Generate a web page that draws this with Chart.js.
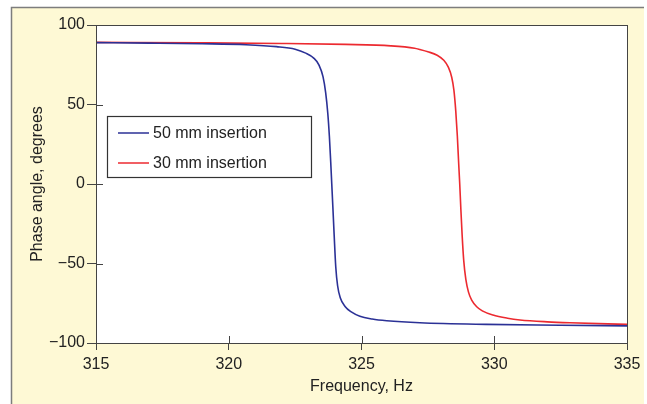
<!DOCTYPE html>
<html>
<head>
<meta charset="utf-8">
<script src="https://cdn.jsdelivr.net/npm/chart.js@4"></script>
<style>
  html, body { margin: 0; padding: 0; background: #fff; overflow: hidden; }
  canvas { display: block; }
</style>
</head>
<body>
<canvas id="myChart" width="647" height="404"></canvas>
<script>
// frequency (Hz) and phase (degrees)
var freq50 = [315, 317, 319, 320.65, 321.8, 322.5, 322.9, 323.2, 323.4, 323.55, 323.65, 323.73, 323.79, 323.84, 323.88, 323.92, 323.97, 324.03, 324.1, 324.2, 324.38, 324.63, 324.94, 325.4, 325.95, 327.2, 329.7, 332.5, 335];
var phase50 = [88.9, 88.6, 88.2, 87.6, 86.4, 84.8, 82.3, 79.2, 74.8, 67.5, 57.5, 44.5, 30, 14, 0, -14, -32, -52, -64, -71.5, -77, -80.6, -83.2, -84.9, -86.0, -87.3, -88.3, -88.8, -89.2];

var freq30 = [315, 318.9, 322, 324.4, 326.1, 327.0, 327.2, 327.5, 327.85, 328.1, 328.27, 328.4, 328.48, 328.55, 328.61, 328.66, 328.7, 328.74, 328.79, 328.85, 328.93, 329.03, 329.15, 329.34, 329.55, 329.95, 330.5, 330.97, 332, 332.85, 335];
var phase30 = [89.1, 88.8, 88.4, 87.8, 86.9, 85.4, 84.6, 83.2, 81.0, 77.8, 73.5, 67, 59, 46, 30, 13, 0, -15, -32, -48, -60, -68, -73, -77.2, -79.8, -82.4, -84.4, -85.5, -86.7, -87.3, -88.3];

var seriesLabels = ["50 mm insertion", "30 mm insertion"];
var xTicks = [315, 320, 325, 330, 335];
var yTicks = [-100, -50, 0, 50, 100];

function pts(xs, ys) {
  return xs.map(function (x, i) { return { x: x, y: ys[i] }; });
}

var frame = {
  id: 'frame',
  beforeDraw: function (chart) {
    var c = chart.ctx, a = chart.chartArea;
    c.save();
    c.fillStyle = '#ffffff';
    c.fillRect(0, 0, chart.width, chart.height);
    c.fillStyle = '#fef9d5';
    c.fillRect(11, 7, 633, chart.height - 7);
    c.strokeStyle = '#7d7d7d';
    c.lineWidth = 1.5;
    c.beginPath();
    c.moveTo(11.5, chart.height);
    c.lineTo(11.5, 7.5);
    c.lineTo(644, 7.5);
    c.stroke();
    c.fillStyle = '#ffffff';
    c.fillRect(a.left, a.top, a.right - a.left, a.bottom - a.top);
    c.restore();
  },
  afterDraw: function (chart) {
    var c = chart.ctx, a = chart.chartArea;
    var xs = chart.scales.x, ys = chart.scales.y;
    c.save();
    c.strokeStyle = '#444';
    c.lineWidth = 1;
    c.strokeRect(a.left + 0.5, a.top + 0.5, a.right - a.left, a.bottom - a.top);
    // inner halves of the tick marks
    c.beginPath();
    xTicks.forEach(function (v) {
      var p = Math.round(xs.getPixelForValue(v)) + 0.5;
      c.moveTo(p, a.bottom);
      c.lineTo(p, a.bottom - 7);
    });
    yTicks.forEach(function (v) {
      var p = Math.round(ys.getPixelForValue(v)) + 0.5;
      c.moveTo(a.left, p);
      c.lineTo(a.left + 7, p);
    });
    c.stroke();

    // legend box
    var bx = a.left + 11, by = a.top + 91, bw = 204, bh = 61;
    c.fillStyle = '#fff';
    c.fillRect(bx, by, bw, bh);
    c.strokeStyle = '#333';
    c.lineWidth = 1.2;
    c.strokeRect(bx + 0.5, by + 0.5, bw, bh);
    c.font = '16px "Liberation Sans", Arial, sans-serif';
    c.textBaseline = 'middle';
    chart.data.datasets.forEach(function (ds, i) {
      var ly = by + 17 + i * 30;
      c.strokeStyle = ds.borderColor;
      c.lineWidth = 1.5;
      c.beginPath();
      c.moveTo(bx + 11, ly);
      c.lineTo(bx + 42, ly);
      c.stroke();
      c.fillStyle = '#222';
      c.fillText(ds.label, bx + 46, ly + 1);
    });
    c.restore();
  }
};

var ctx = document.getElementById("myChart").getContext('2d');
var myChart = new Chart(ctx, {
  type: 'line',
  data: {
    datasets: [{
      label: seriesLabels[0],
      data: pts(freq50, phase50),
      borderColor: '#2b3196',
      borderWidth: 1.6,
      pointRadius: 0,
      cubicInterpolationMode: 'monotone',
      fill: false
    }, {
      label: seriesLabels[1],
      data: pts(freq30, phase30),
      borderColor: '#ec2a30',
      borderWidth: 1.6,
      pointRadius: 0,
      cubicInterpolationMode: 'monotone',
      fill: false
    }]
  },
  options: {
    responsive: false,
    animation: false,
    layout: { padding: { left: 0, top: 25, right: 20, bottom: 0 } },
    plugins: { legend: { display: false }, tooltip: { enabled: false } },
    scales: {
      x: {
        type: 'linear',
        min: 315, max: 335,
        afterBuildTicks: function (s) { s.ticks = xTicks.map(function (v) { return { value: v }; }); },
        afterFit: function (s) { s.height = 61; },
        grid: { drawOnChartArea: false, drawTicks: true, tickLength: 7, color: '#444' },
        border: { display: true, color: '#444' },
        ticks: { color: '#222', padding: 5, maxRotation: 0, font: { size: 16, family: '"Liberation Sans", Arial, sans-serif' } },
        title: { display: true, text: 'Frequency, Hz', color: '#222', padding: { top: 0, bottom: 8 }, font: { size: 16, family: '"Liberation Sans", Arial, sans-serif' } }
      },
      y: {
        min: -100, max: 100,
        afterBuildTicks: function (s) { s.ticks = yTicks.map(function (v) { return { value: v }; }); },
        afterFit: function (s) { s.width = 96; },
        grid: { drawOnChartArea: false, drawTicks: true, tickLength: 9, color: '#444' },
        border: { display: true, color: '#444' },
        ticks: {
          color: '#222', padding: 2,
          font: { size: 16, family: '"Liberation Sans", Arial, sans-serif' },
          callback: function (v) { return String(v).replace('-', '\u2212'); }
        },
        title: { display: true, text: 'Phase angle, degrees', color: '#222', padding: { top: 28, bottom: 0 }, font: { size: 16, family: '"Liberation Sans", Arial, sans-serif' } }
      }
    }
  },
  plugins: [frame]
});
</script>
</body>
</html>
